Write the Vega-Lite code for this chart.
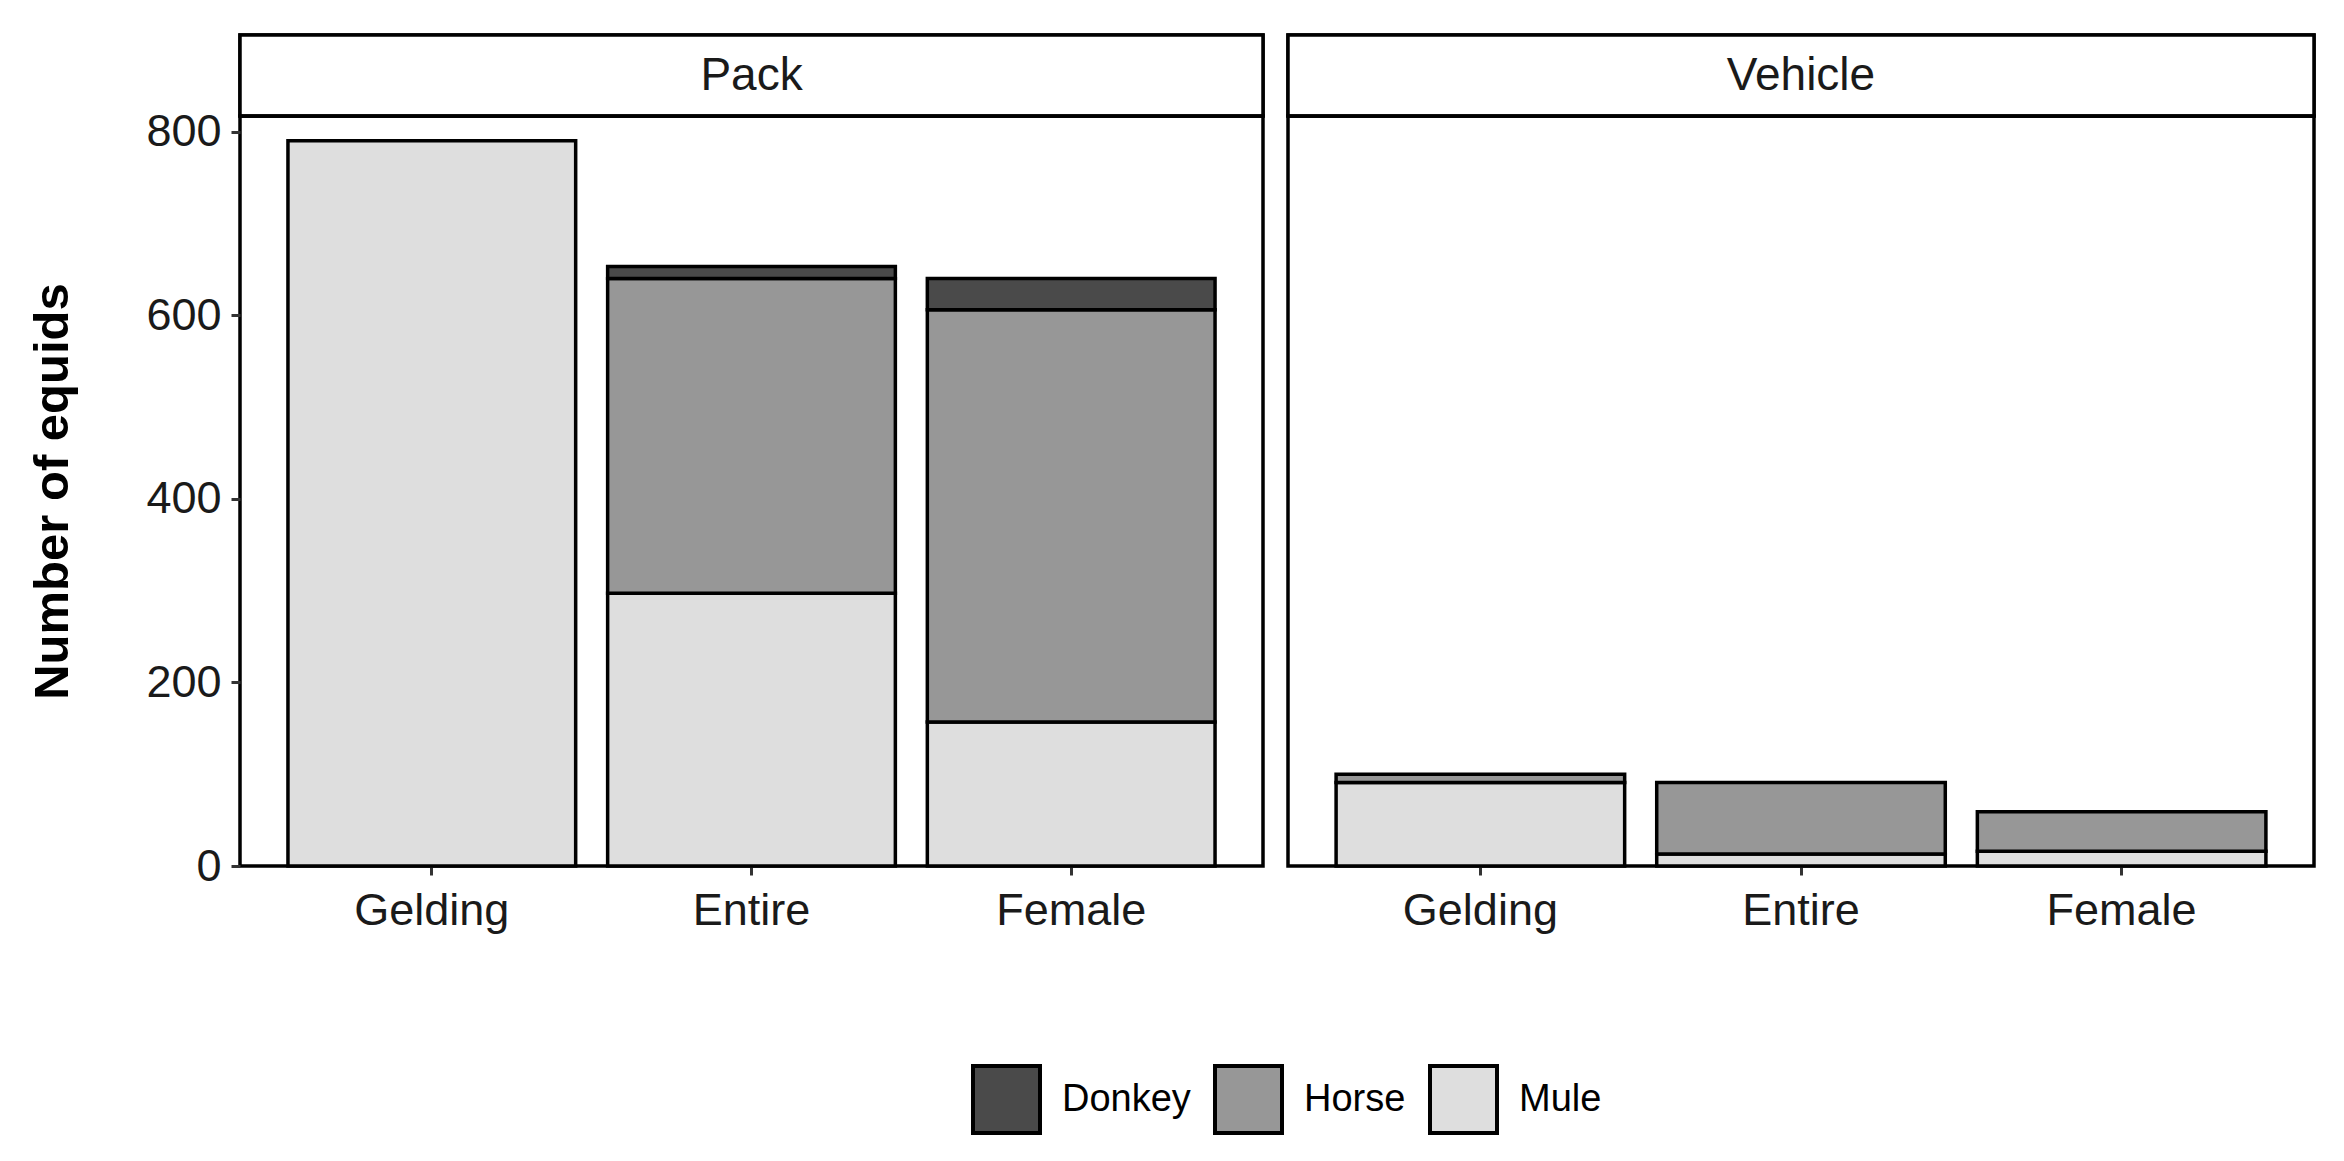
{
  "$schema": "https://vega.github.io/schema/vega-lite/v6.json",
  "background": "white",
  "padding": {"left": 27, "top": 31, "right": 30, "bottom": 20},
  "datasets": {
    "equids": [
      {"Use": "Pack", "Sex": "Gelding", "Type": "Mule", "Count": 790},
      {"Use": "Pack", "Sex": "Entire", "Type": "Mule", "Count": 297},
      {"Use": "Pack", "Sex": "Entire", "Type": "Horse", "Count": 343},
      {"Use": "Pack", "Sex": "Entire", "Type": "Donkey", "Count": 13},
      {"Use": "Pack", "Sex": "Female", "Type": "Mule", "Count": 157},
      {"Use": "Pack", "Sex": "Female", "Type": "Horse", "Count": 449},
      {"Use": "Pack", "Sex": "Female", "Type": "Donkey", "Count": 34},
      {"Use": "Vehicle", "Sex": "Gelding", "Type": "Mule", "Count": 91},
      {"Use": "Vehicle", "Sex": "Gelding", "Type": "Horse", "Count": 9},
      {"Use": "Vehicle", "Sex": "Entire", "Type": "Mule", "Count": 13},
      {"Use": "Vehicle", "Sex": "Entire", "Type": "Horse", "Count": 78},
      {"Use": "Vehicle", "Sex": "Female", "Type": "Mule", "Count": 16},
      {"Use": "Vehicle", "Sex": "Female", "Type": "Horse", "Count": 43}
    ],
    "panels": [{"Use": "Pack"}, {"Use": "Vehicle"}]
  },
  "resolve": {"scale": {"color": "shared"}, "legend": {"color": "shared"}},
  "spacing": 17,
  "hconcat": [
    {
      "spacing": 0,
      "bounds": "flush",
      "vconcat": [
        {
          "data": {"name": "panels"},
          "transform": [{"filter": "datum.Use === 'Pack'"}],
          "width": 1023,
          "height": 81,
          "encoding": {
            "x": {"field": "Use", "type": "nominal", "axis": null, "scale": {"paddingInner": 0, "paddingOuter": 0}}
          },
          "layer": [
            {"mark": {"type": "rect", "fill": "white", "stroke": "black", "strokeWidth": 3.5}},
            {"mark": {"type": "text", "fontSize": 46, "font": "Liberation Sans", "color": "#1a1a1a", "baseline": "middle", "align": "center"},
             "encoding": {"text": {"field": "Use"}}}
          ]
        },
        {
          "data": {"name": "equids"},
          "transform": [{"filter": "datum.Use === 'Pack'"}],
          "width": 1023,
          "height": 750,
          "mark": {"type": "bar", "stroke": "black", "strokeWidth": 3.5},
          "encoding": {
            "x": {"field": "Sex", "type": "nominal", "sort": ["Gelding", "Entire", "Female"],
                  "scale": {"paddingInner": 0.1, "paddingOuter": 0.15},
                  "axis": {"title": null, "labelAngle": 0, "labelPadding": 13}},
            "y": {"field": "Count", "type": "quantitative", "stack": "zero",
                  "scale": {"domain": [0, 817], "nice": false},
                  "axis": {"title": "Number of equids", "values": [0, 200, 400, 600, 800]}},
            "color": {"field": "Type", "type": "nominal",
                      "scale": {"domain": ["Donkey", "Horse", "Mule"], "range": ["#4a4a4a", "#979797", "#dedede"]},
                      "legend": {"title": null, "orient": "none", "legendX": 731, "legendY": 1029}},
            "order": {"field": "Type", "sort": "descending"}
          }
        }
      ]
    },
    {
      "spacing": 0,
      "bounds": "flush",
      "vconcat": [
        {
          "data": {"name": "panels"},
          "transform": [{"filter": "datum.Use === 'Vehicle'"}],
          "width": 1026,
          "height": 81,
          "encoding": {
            "x": {"field": "Use", "type": "nominal", "axis": null, "scale": {"paddingInner": 0, "paddingOuter": 0}}
          },
          "layer": [
            {"mark": {"type": "rect", "fill": "white", "stroke": "black", "strokeWidth": 3.5}},
            {"mark": {"type": "text", "fontSize": 46, "font": "Liberation Sans", "color": "#1a1a1a", "baseline": "middle", "align": "center"},
             "encoding": {"text": {"field": "Use"}}}
          ]
        },
        {
          "data": {"name": "equids"},
          "transform": [{"filter": "datum.Use === 'Vehicle'"}],
          "width": 1026,
          "height": 750,
          "mark": {"type": "bar", "stroke": "black", "strokeWidth": 3.5},
          "encoding": {
            "x": {"field": "Sex", "type": "nominal", "sort": ["Gelding", "Entire", "Female"],
                  "scale": {"paddingInner": 0.1, "paddingOuter": 0.15},
                  "axis": {"title": null, "labelAngle": 0, "labelPadding": 13}},
            "y": {"field": "Count", "type": "quantitative", "stack": "zero",
                  "scale": {"domain": [0, 817], "nice": false},
                  "axis": null},
            "color": {"field": "Type", "type": "nominal",
                      "scale": {"domain": ["Donkey", "Horse", "Mule"], "range": ["#4a4a4a", "#979797", "#dedede"]},
                      "legend": {"title": null, "orient": "none", "legendX": 731, "legendY": 1029}},
            "order": {"field": "Type", "sort": "descending"}
          }
        }
      ]
    }
  ],
  "config": {
    "font": "Liberation Sans",
    "view": {"stroke": "black", "strokeWidth": 3.5},
    "axis": {
      "grid": false,
      "domain": false,
      "tickColor": "#333333",
      "tickWidth": 3,
      "tickSize": 9,
      "labelFont": "Liberation Sans",
      "labelFontSize": 45,
      "labelColor": "#1a1a1a",
      "labelPadding": 10,
      "titleFont": "Liberation Sans",
      "titleFontSize": 49,
      "titleFontWeight": "bold",
      "titleColor": "black",
      "titlePadding": 68
    },
    "legend": {
      "direction": "horizontal",
      "symbolType": "square",
      "symbolSize": 4489,
      "symbolStrokeColor": "black",
      "symbolStrokeWidth": 4,
      "symbolOpacity": 1,
      "labelFont": "Liberation Sans",
      "labelFontSize": 38,
      "labelColor": "black",
      "labelOffset": 20,
      "columnPadding": 16
    }
  }
}
